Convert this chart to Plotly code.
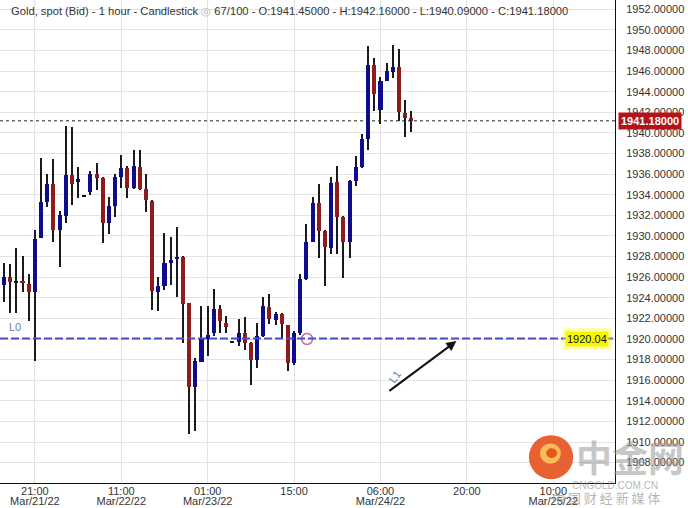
import plotly.graph_objects as go

# ---- data (1-hour candles, index based; 67 of 100 slots used) ----
opens = [1925.2, 1926.05, 1925.5, 1925.6, 1925.35, 1924.6, 1929.85, 1933.3, 1935.05, 1930.55,
         1931.95, 1935.9, 1935.25, 1933.85, 1934.3, 1936.0, 1935.65, 1931.25, 1932.95, 1935.75,
         1936.6, 1934.7, 1936.7, 1934.55, 1933.4, 1924.6, 1925.1, 1927.4, 1927.75, 1928.0,
         1923.45, 1915.3, 1917.8, 1920.0, 1920.55, 1922.9, 1921.6, 1919.7, 1919.75, 1920.55,
         1919.65, 1917.95, 1920.3, 1923.15, 1921.85, 1922.4, 1921.35, 1917.7, 1920.55, 1925.8,
         1929.45, 1933.2, 1930.5, 1928.85, 1935.2, 1931.85, 1929.45, 1935.35, 1936.65, 1939.4,
         1946.6, 1942.25, 1945.05, 1945.95, 1946.4, 1941.9, 1941.45]
highs = [1927.35, 1927.3, 1928.85, 1928.05, 1926.3, 1930.6, 1937.55, 1936.0, 1937.45, 1932.45,
         1940.7, 1940.6, 1936.65, 1933.9, 1936.35, 1937.05, 1935.7, 1933.75, 1936.0, 1937.85,
         1936.75, 1938.35, 1938.35, 1936.0, 1933.5, 1926.0, 1930.25, 1929.95, 1930.85, 1928.1,
         1923.5, 1918.15, 1923.2, 1923.25, 1924.85, 1923.3, 1922.25, 1919.75, 1921.9, 1922.1,
         1919.7, 1921.6, 1924.1, 1924.35, 1922.65, 1922.5, 1921.4, 1920.8, 1926.3, 1931.15,
         1933.8, 1935.05, 1930.6, 1935.75, 1936.75, 1931.9, 1935.45, 1937.8, 1939.95, 1948.4,
         1947.25, 1945.45, 1946.75, 1948.5, 1948.15, 1943.25, 1942.16]
lows = [1923.6, 1922.55, 1922.55, 1924.6, 1921.7, 1917.9, 1929.8, 1932.85, 1929.45, 1927.0,
        1931.25, 1933.0, 1933.7, 1933.8, 1934.0, 1934.45, 1929.35, 1930.2, 1931.85, 1934.65,
        1933.65, 1934.55, 1934.5, 1932.35, 1922.8, 1922.75, 1924.75, 1925.25, 1924.05, 1919.65,
        1910.8, 1911.1, 1917.75, 1918.35, 1920.25, 1920.55, 1920.55, 1919.65, 1919.3, 1918.95,
        1915.55, 1917.15, 1920.2, 1921.5, 1921.35, 1920.05, 1916.9, 1917.5, 1920.4, 1925.75,
        1929.4, 1927.85, 1925.1, 1928.25, 1928.3, 1925.9, 1927.85, 1934.85, 1936.6, 1938.3,
        1942.15, 1940.85, 1945.0, 1945.35, 1941.15, 1939.65, 1940.09]
closes = [1926.05, 1925.55, 1925.5, 1925.4, 1924.6, 1929.7, 1933.3, 1935.05, 1930.55, 1932.05,
          1935.9, 1935.05, 1935.55, 1933.85, 1936.0, 1935.65, 1931.3, 1932.9, 1935.7, 1936.6,
          1934.7, 1936.8, 1934.6, 1933.45, 1924.7, 1925.15, 1927.35, 1927.65, 1928.0, 1923.4,
          1915.35, 1917.85, 1920.0, 1920.4, 1922.9, 1921.7, 1921.2, 1919.7, 1920.55, 1919.65,
          1917.95, 1920.3, 1923.2, 1921.9, 1922.4, 1921.5, 1917.7, 1920.55, 1925.8, 1929.45,
          1933.2, 1930.5, 1928.95, 1935.1, 1931.85, 1929.45, 1935.35, 1936.65, 1939.4, 1946.6,
          1943.75, 1945.05, 1946.0, 1946.4, 1942.0, 1941.45, 1941.18]
bar_index = list(range(len(opens)))

time_ticks = [5, 19, 33, 47, 61, 75, 89]
time_labels = ["21:00", "11:00", "01:00", "15:00", "06:00", "20:00", "10:00"]
date_ticks = [5, 19, 33, 61, 89]
date_labels = ["Mar/21/22", "Mar/22/22", "Mar/23/22", "Mar/24/22", "Mar/25/22"]

last_price = 1941.18
level_l0 = 1920.04
alert_index = [49.1]
alert_price = [1920.0]
arrow_from = (62.2, 1914.85)
arrow_to = (73.3, 1919.8)

header = ("Gold, spot (Bid) - 1 hour - Candlestick "
          "<span style='color:#b5b5b5'>◎</span> "
          "67/100 - O:1941.45000 - H:1942.16000 - L:1940.09000 - C:1941.18000")

UP = "#0c0c8c"
DOWN = "#911b1b"
FONT = "Liberation Sans, Arial, sans-serif"
X_RANGE = [-0.65, 99.0]

body_base = [min(o, c) for o, c in zip(opens, closes)]
body_len = [max(abs(c - o), 0.14) for o, c in zip(opens, closes)]
body_col = [UP if c > o else (DOWN if c < o else "#111111") for o, c in zip(opens, closes)]
wick_len = [h - l for h, l in zip(highs, lows)]

fig = go.Figure()
fig.add_trace(go.Bar(x=bar_index, y=wick_len, base=lows, width=0.17,
                     marker=dict(color="#1a1a1a", line=dict(width=0)), opacity=1,
                     showlegend=False, hoverinfo="skip"))
fig.add_trace(go.Bar(x=bar_index, y=body_len, base=body_base, width=0.66,
                     marker=dict(color=body_col, line=dict(width=0)), opacity=1,
                     showlegend=False,
                     customdata=list(zip(opens, highs, lows, closes)),
                     hovertemplate="O:%{customdata[0]}<br>H:%{customdata[1]}<br>L:%{customdata[2]}<br>C:%{customdata[3]}<extra></extra>"))
fig.add_trace(go.Scatter(x=alert_index, y=alert_price, mode="markers",
                         marker=dict(symbol="circle-open", size=11, color="#c0709a",
                                     line=dict(width=1.5, color="#c0709a")),
                         showlegend=False, hoverinfo="skip"))
# invisible trace carrying the date-row axis
fig.add_trace(go.Scatter(x=[X_RANGE[0]], y=[1930], xaxis="x2", mode="markers",
                         marker=dict(opacity=0), showlegend=False, hoverinfo="skip"))

# current price dotted line
fig.add_shape(type="line", xref="paper", x0=0, x1=1, yref="y", y0=last_price, y1=last_price,
              line=dict(color="#222222", width=1, dash="3px,3px"))
# L0 level line
fig.add_shape(type="line", xref="paper", x0=0, x1=1, yref="y", y0=level_l0, y1=level_l0,
              line=dict(color="#4c4cc6", width=2, dash="8px,3px"))
# yellow glow for level label
fig.add_shape(type="rect", xref="paper", yref="y", x0=0.915, x1=0.995,
              y0=level_l0 - 1.0, y1=level_l0 + 1.0,
              fillcolor="rgba(255,255,0,0.35)", line=dict(width=0), layer="above")

annotations = [
    dict(xref="paper", yref="paper", x=0, y=0.977, xanchor="left", yanchor="middle", xshift=9,
         text=header, showarrow=False, font=dict(family=FONT, size=11.2, color="#333333")),
    dict(xref="paper", yref="y", x=1, y=last_price, xanchor="left", yanchor="middle", xshift=3,
         text="<b>1941.18000</b>", showarrow=False, bgcolor="#b3141c", borderpad=2,
         font=dict(family=FONT, size=11, color="white")),
    dict(xref="paper", yref="y", x=0.99, y=level_l0, xanchor="right", yanchor="middle",
         text="1920.04", showarrow=False, bgcolor="#f7f700", borderpad=1,
         font=dict(family=FONT, size=11, color="#111111")),
    dict(xref="paper", yref="y", x=0, y=level_l0 + 1.1, xanchor="left", yanchor="middle", xshift=7,
         text="L0", showarrow=False, font=dict(family=FONT, size=11, color="#6a80b0")),
    dict(xref="x", yref="y", x=arrow_to[0], y=arrow_to[1], axref="x", ayref="y",
         ax=arrow_from[0], ay=arrow_from[1], text="", showarrow=True, arrowhead=2,
         arrowsize=1, arrowwidth=2, arrowcolor="#111111", standoff=0),
    dict(xref="x", yref="y", x=63.3, y=1916.3, text="L1", showarrow=False, textangle=-55,
         font=dict(family=FONT, size=11, color="#6a80b0")),
    dict(xref="paper", yref="y", x=1, y=1954, xanchor="left", yanchor="middle", xshift=8,
         text="1954.00000", showarrow=False, font=dict(family=FONT, size=11, color="#333333")),
    # watermark
    dict(xref="paper", yref="paper", x=1.025, y=0.055, xanchor="center", yanchor="middle",
         text="<b>中金网</b>", showarrow=False,
         font=dict(family="Noto Sans CJK SC", size=36, color="rgba(150,150,150,0.55)")),
    dict(xref="paper", yref="paper", x=1.0, y=-0.005, xanchor="center", yanchor="middle",
         text="CNGOLD.COM.CN", showarrow=False,
         font=dict(family=FONT, size=10, color="rgba(150,150,150,0.7)")),
    dict(xref="paper", yref="paper", x=0.985, y=-0.03, xanchor="center", yanchor="middle",
         text="中 国 财 经 新 媒 体", showarrow=False,
         font=dict(family="Noto Sans CJK SC", size=13, color="rgba(150,150,150,0.7)")),
]

shapes_logo = [
    dict(type="circle", xref="paper", yref="paper", x0=0.860, x1=0.932, y0=0.008, y1=0.099,
         fillcolor="rgba(228,80,28,0.9)", line=dict(width=0), layer="above"),
    dict(type="circle", xref="paper", yref="paper", x0=0.878, x1=0.912, y0=0.040, y1=0.082,
         fillcolor="rgba(250,200,90,0.9)", line=dict(width=0), layer="above"),
    dict(type="circle", xref="paper", yref="paper", x0=0.888, x1=0.906, y0=0.052, y1=0.072,
         fillcolor="rgba(228,80,28,0.95)", line=dict(width=0), layer="above"),
]
for s in shapes_logo:
    fig.add_shape(**s)

fig.update_layout(
    width=688, height=508,
    margin=dict(l=0, r=73, t=0, b=25),
    paper_bgcolor="white", plot_bgcolor="white",
    barmode="overlay", bargap=0,
    font=dict(family=FONT, size=11, color="#333333"),
    annotations=annotations,
    showlegend=False,
    xaxis=dict(range=X_RANGE, tickmode="array", tickvals=time_ticks, ticktext=time_labels,
               showgrid=True, gridcolor="#e3e3e3", gridwidth=1, zeroline=False,
               showline=True, linecolor="#111111", linewidth=1, ticks="",
               ticklabelstandoff=-2,
               tickfont=dict(family=FONT, size=11, color="#333333")),
    xaxis2=dict(range=X_RANGE, overlaying="x", side="bottom", anchor="y",
                tickmode="array", tickvals=date_ticks, ticktext=date_labels,
                showgrid=False, zeroline=False, showline=False, ticks="",
                ticklabelstandoff=10,
                tickfont=dict(family=FONT, size=11, color="#333333")),
    yaxis=dict(side="right", range=[1906.02, 1952.91], dtick=2, tick0=1906, tickformat=".5f",
               showgrid=True, gridcolor="#e3e3e3", gridwidth=1, zeroline=False,
               showline=True, linecolor="#111111", linewidth=1, ticks="",
               ticklabelstandoff=8,
               tickfont=dict(family=FONT, size=11, color="#333333")),
)

fig.write_html("out.html", config={"displayModeBar": False},
               post_script="document.body.style.margin='0';document.body.style.overflow='hidden';")
